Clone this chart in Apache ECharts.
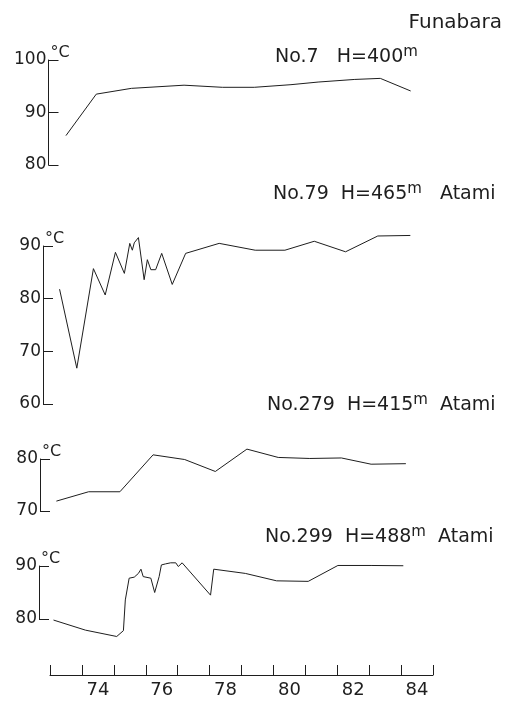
<!DOCTYPE html>
<html>
<head>
<meta charset="utf-8">
<script src="https://cdn.jsdelivr.net/npm/echarts@6/dist/echarts.min.js"></script>
<style>
html,body{margin:0;padding:0;background:#fff;}
#c{width:507px;height:709px;}
</style>
</head>
<body>
<div id="c"></div>
<script>
// ---- data (years, temperatures °C) ----
var years7   = [73.0, 73.95, 75.05, 76.7, 77.9, 78.9, 80.05, 80.9, 82.05, 82.85, 83.8];
var temps7   = [85.6, 93.5, 94.6, 95.2, 94.8, 94.8, 95.3, 95.8, 96.3, 96.5, 94.1];

var years79  = [72.8, 73.34, 73.86, 74.23, 74.55, 74.83, 75.0, 75.08, 75.14, 75.27, 75.45, 75.55, 75.66, 75.81, 76.0, 76.33, 76.75, 77.8, 78.93, 79.86, 80.78, 81.76, 82.77, 83.79];
var temps79  = [81.8, 66.8, 85.7, 80.7, 88.8, 84.8, 90.5, 89.2, 90.6, 91.6, 83.6, 87.4, 85.5, 85.5, 88.6, 82.7, 88.6, 90.5, 89.2, 89.2, 90.9, 88.9, 91.9, 92.0];

var years279 = [72.7, 73.71, 74.69, 75.73, 76.72, 77.68, 78.67, 79.65, 80.64, 81.63, 82.56, 83.65];
var temps279 = [71.9, 73.7, 73.7, 80.8, 79.9, 77.6, 81.9, 80.3, 80.1, 80.2, 79.0, 79.1];

var years299 = [72.61, 73.61, 74.59, 74.8, 74.86, 74.98, 75.14, 75.27, 75.35, 75.42, 75.66, 75.78, 75.92, 75.99, 76.12, 76.28, 76.44, 76.52, 76.64, 77.53, 77.63, 78.62, 79.6, 80.59, 81.52, 82.56, 83.57];
var temps299 = [79.8, 77.9, 76.7, 77.8, 83.6, 87.7, 87.9, 88.6, 89.4, 88.0, 87.7, 85.0, 88.0, 90.2, 90.4, 90.6, 90.6, 89.9, 90.6, 84.5, 89.4, 88.6, 87.2, 87.1, 90.1, 90.1, 90.05];

var xTickValues  = [72.5, 73.5, 74.5, 75.5, 76.5, 77.5, 78.5, 79.5, 80.5, 81.5, 82.5, 83.5, 84.5];
var xLabelValues = [74, 76, 78, 80, 82, 84];

var yRanges = [[80, 100], [60, 90], [70, 80], [80, 90]];
var wellNames = ['No.7', 'No.79', 'No.279', 'No.299'];
var wellHeights = ['400', '465', '415', '488'];
var wellPlaces = ['', 'Atami', 'Atami', 'Atami'];
var topLabel = 'Funabara';

// ---- layout ----
var INK = '#1e1e1e';
var FONT = 'DejaVu Sans';
var grids = [
  {left: 50, width: 383, top: 60,  height: 105},
  {left: 50, width: 383, top: 246, height: 158},
  {left: 50, width: 383, top: 459, height: 52},
  {left: 50, width: 383, top: 566, height: 53}
];
var yOffsets = [1.5, 7, 10, 11];

function zip(a, b) { return a.map(function (v, i) { return [v, b[i]]; }); }
var seriesData = [zip(years7, temps7), zip(years79, temps79), zip(years279, temps279), zip(years299, temps299)];

var xAxes = grids.map(function (g, i) {
  var last = i === 3;
  return {
    type: 'value', gridIndex: i, min: 72.5, max: 84.5,
    show: last, position: 'bottom', offset: last ? 56 : 0,
    splitLine: {show: false},
    axisLine: {show: true, lineStyle: {color: INK, width: 1}},
    axisTick: {show: true, inside: true, length: 10, customValues: xTickValues, lineStyle: {color: INK, width: 1}},
    axisLabel: {show: true, customValues: xLabelValues, margin: 6, fontSize: 18, fontFamily: FONT, color: INK}
  };
});

var yAxes = grids.map(function (g, i) {
  return {
    type: 'value', gridIndex: i, min: yRanges[i][0], max: yRanges[i][1], interval: 10,
    offset: yOffsets[i],
    name: '°C', nameLocation: 'end', nameGap: -1, nameMoveOverlap: false,
    nameTextStyle: {align: 'left', verticalAlign: 'bottom', fontSize: 16, fontFamily: FONT, color: INK, padding: [0, 0, 0, 2]},
    splitLine: {show: false},
    axisLine: {show: true, lineStyle: {color: INK, width: 1}},
    axisTick: {show: true, inside: true, length: 10, lineStyle: {color: INK, width: 1}},
    axisLabel: {margin: 2, fontSize: 17, fontFamily: FONT, color: INK}
  };
});

var series = seriesData.map(function (d, i) {
  return {
    type: 'line', xAxisIndex: i, yAxisIndex: i, data: d,
    showSymbol: false, symbol: 'none', smooth: false, clip: false,
    lineStyle: {color: INK, width: 1}, animation: false
  };
});

var rich = {
  a: {fontSize: 19, fontFamily: FONT, color: INK, lineHeight: 25},
  s: {fontSize: 15, fontFamily: FONT, color: INK, verticalAlign: 'top', lineHeight: 15}
};
function titleText(i) {
  var t = '{a|' + wellNames[i] + (i === 0 ? '   ' : '  ') + 'H=' + wellHeights[i] + '}{s|m}';
  if (wellPlaces[i]) t += '{a|' + (i === 1 ? '   ' : '  ') + wellPlaces[i] + '}';
  return t;
}
var titleLefts = [275, 273, 267, 265];
var titleTops = [45, 182, 393, 525];

var graphics = [
  {type: 'text', right: 5, top: 13, style: {text: topLabel, font: '20px "DejaVu Sans"', fill: INK}}
];
for (var i = 0; i < 4; i++) {
  graphics.push({type: 'text', left: titleLefts[i], top: titleTops[i], style: {text: titleText(i), rich: rich, fill: INK}});
}

var chart = echarts.init(document.getElementById('c'), null, {renderer: 'canvas'});
chart.setOption({
  backgroundColor: '#fff',
  animation: false,
  grid: grids,
  xAxis: xAxes,
  yAxis: yAxes,
  series: series,
  graphic: graphics
});
</script>
</body>
</html>
